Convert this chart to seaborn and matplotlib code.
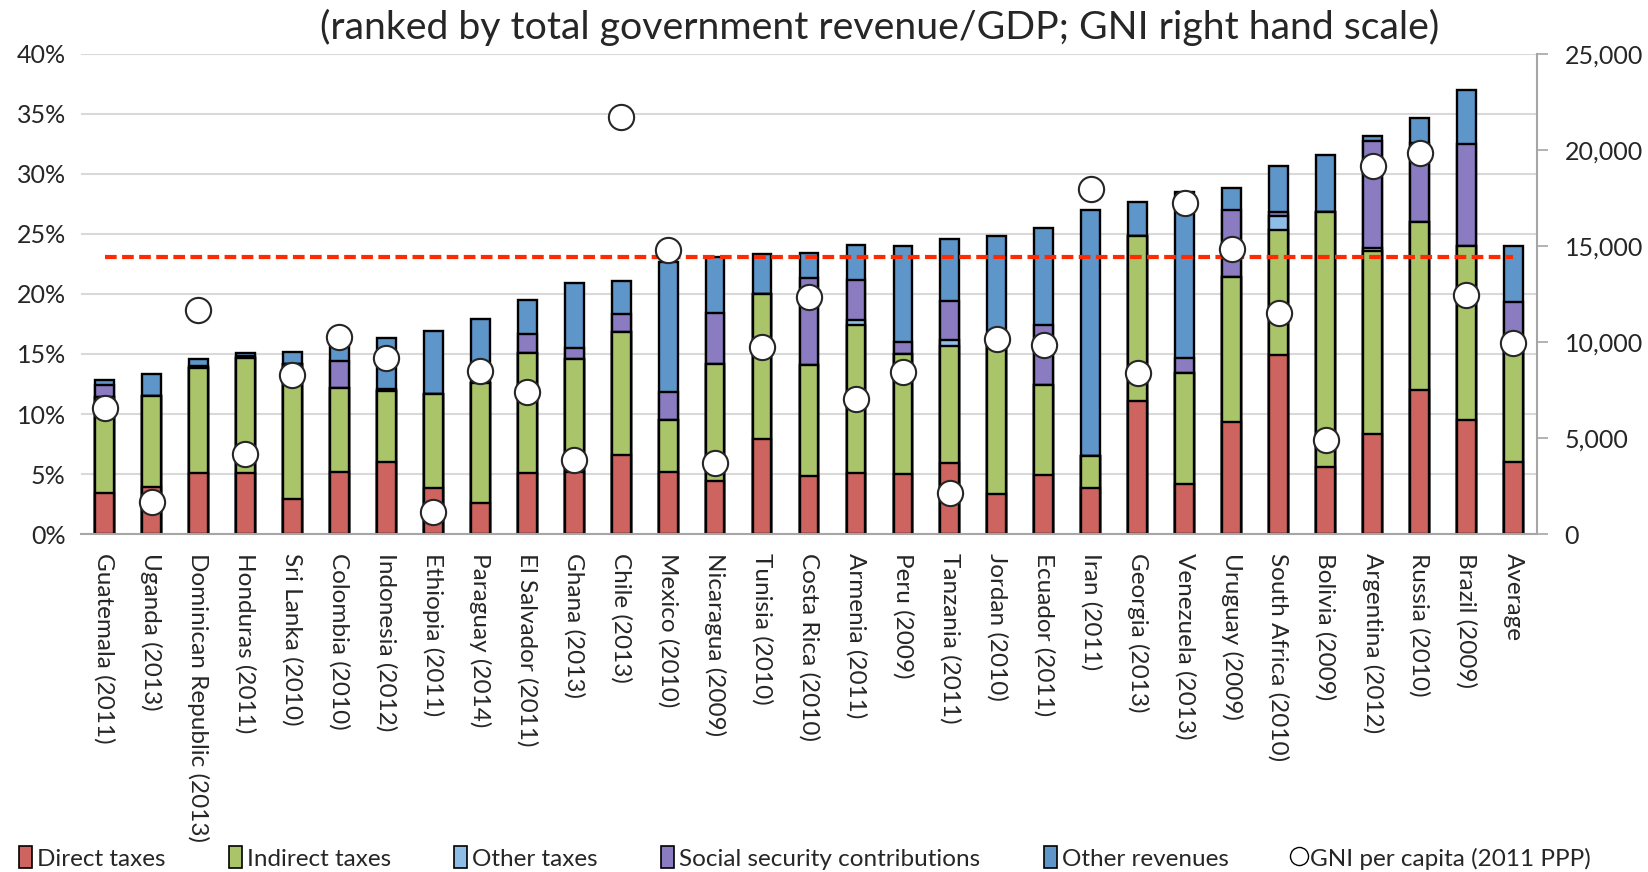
import numpy as np
import pandas as pd
import matplotlib
matplotlib.use('Agg')
import matplotlib.pyplot as plt
import seaborn as sns
from matplotlib.patches import Patch
from matplotlib.lines import Line2D

# Data (% of GDP, GNI in 2011 PPP $)
categories = ['Guatemala (2011)', 'Uganda (2013)', 'Dominican Republic (2013)', 'Honduras (2011)',
              'Sri Lanka (2010)', 'Colombia (2010)', 'Indonesia (2012)', 'Ethiopia (2011)',
              'Paraguay (2014)', 'El Salvador (2011)', 'Ghana (2013)', 'Chile (2013)',
              'Mexico (2010)', 'Nicaragua (2009)', 'Tunisia (2010)', 'Costa Rica (2010)',
              'Armenia (2011)', 'Peru (2009)', 'Tanzania (2011)', 'Jordan (2010)',
              'Ecuador (2011)', 'Iran (2011)', 'Georgia (2013)', 'Venezuela (2013)',
              'Uruguay (2009)', 'South Africa (2010)', 'Bolivia (2009)', 'Argentina (2012)',
              'Russia (2010)', 'Brazil (2009)', 'Average']

direct_taxes = [3.4, 3.9, 5.1, 5.1, 2.9, 5.2, 6.0, 3.8, 2.6, 5.1, 5.2, 6.6, 5.2, 4.4, 7.9, 4.8,
                5.1, 5.0, 5.9, 3.3, 4.9, 3.8, 11.1, 4.2, 9.3, 14.9, 5.6, 8.3, 12.0, 9.5, 6.0]
indirect_taxes = [8.0, 7.6, 8.7, 9.6, 11.3, 7.0, 5.9, 7.9, 10.0, 10.0, 9.4, 10.2, 4.3, 9.8, 12.1, 9.3,
                  12.3, 10.0, 9.8, 12.8, 7.5, 2.7, 13.7, 9.2, 12.1, 10.4, 21.2, 15.3, 14.0, 14.5, 10.2]
other_taxes = [0, 0, 0, 0, 0, 0, 0, 0, 0, 0, 0, 0, 0, 0, 0, 0,
               0.45, 0, 0.45, 0, 0, 0, 0, 0, 0, 1.2, 0, 0.25, 0, 0, 0]
social_security = [1.0, 0, 0.2, 0.13, 0, 2.2, 0.17, 0, 0, 1.6, 0.9, 1.5, 2.3, 4.2, 0, 7.2,
                   3.3, 1.0, 3.3, 0, 5.0, 0, 0, 1.3, 5.6, 0.3, 0, 8.9, 6.6, 8.5, 3.1]
other_revenues = [0.43, 1.8, 0.6, 0.25, 1.0, 1.6, 4.25, 5.2, 5.3, 2.8, 5.4, 2.8, 10.9, 4.7, 3.3, 2.1,
                  2.9, 8.0, 5.1, 8.7, 8.1, 20.5, 2.9, 13.8, 1.8, 3.9, 4.75, 0.4, 2.1, 4.5, 4.7]
gni_per_capita = [6560, 1670, 11680, 4180, 8280, 10260, 9180, 1150, 8480, 7380, 3830, 21700,
                  14770, 3700, 9760, 12360, 7050, 8420, 2150, 10170, 9820, 17970, 8400, 17240,
                  14860, 11510, 4900, 19150, 19860, 12430, 9930]
reference_line = 23.1

series_names = ['Direct taxes', 'Indirect taxes', 'Other taxes',
                'Social security contributions', 'Other revenues']
series_colors = ['#CD645F', '#AAC46A', '#8EBDE8', '#8B7CC1', '#5E96C9']

df = pd.DataFrame({'country': categories, 'Direct taxes': direct_taxes,
                   'Indirect taxes': indirect_taxes, 'Other taxes': other_taxes,
                   'Social security contributions': social_security,
                   'Other revenues': other_revenues, 'GNI': gni_per_capita})
cum = df[series_names].cumsum(axis=1)

sns.set_style('white')
plt.rcParams['font.family'] = ['Lato', 'DejaVu Sans']

fig = plt.figure(figsize=(16.48, 8.72), dpi=100)
ax = fig.add_axes([0.0492, 0.3876, 0.8834, 0.5505])

# stacked bars: draw cumulative totals from the top layer down
for name, color in reversed(list(zip(series_names, series_colors))):
    sns.barplot(x=df['country'], y=cum[name], color=color, saturation=1, width=0.4,
                edgecolor='black', linewidth=1.7, errorbar=None, ax=ax)

n = len(categories)
ax.plot([0, n - 1], [reference_line, reference_line], color='#FF2A00', lw=3,
        dashes=(2.8, 1.3), zorder=3)

ax.set_xlim(-0.5, n - 0.5)
ax.set_ylim(0, 40)
ax.set_yticks(np.arange(0, 41, 5))
ax.set_yticklabels([f'{v}%' for v in range(0, 41, 5)])
ax.set_xlabel('')
ax.set_ylabel('')
ax.yaxis.grid(True, color='#D9D9D9', lw=1.5)
ax.set_axisbelow(True)
for s in ['left', 'top', 'right']:
    ax.spines[s].set_visible(False)
ax.spines['bottom'].set_color('#A6A6A6')
ax.spines['bottom'].set_linewidth(1.5)
ax.set_xticks(np.arange(-0.5, n, 1), minor=True)
ax.tick_params(axis='x', which='major', labelrotation=-90, length=7, direction='inout',
               color='#A6A6A6', width=1.2, pad=10, labelsize=17.5)
ax.tick_params(axis='x', which='minor', length=12, direction='inout', color='#A6A6A6', width=1.2)
ax.tick_params(axis='y', length=0, pad=11, labelsize=18)

# GNI per capita on the right hand scale
ax2 = ax.twinx()
sns.scatterplot(x=np.arange(n), y=df['GNI'], color='white', edgecolor='#262626',
                linewidth=1.5, s=330, zorder=5, legend=False, ax=ax2)
ax2.set_xlim(-0.5, n - 0.5)
ax2.set_ylim(0, 25000)
ax2.set_yticks(np.arange(0, 25001, 5000))
ax2.set_yticklabels([f'{v:,}' for v in range(0, 25001, 5000)])
ax2.set_ylabel('')
for s in ['left', 'top', 'bottom']:
    ax2.spines[s].set_visible(False)
ax2.spines['right'].set_color('#A6A6A6')
ax2.spines['right'].set_linewidth(1.5)
ax2.tick_params(axis='y', length=8, color='#A6A6A6', width=1.2, pad=12, labelsize=18)

fig.text(0.534, 0.968, '(ranked by total government revenue/GDP; GNI right hand scale)',
         ha='center', va='center', fontsize=28.3)

handles = [Patch(facecolor=c, edgecolor='black', linewidth=1.2) for c in series_colors]
handles.append(Line2D([], [], marker='o', color='none', markerfacecolor='white',
                      markeredgecolor='black', markersize=13))
fig.legend(handles, series_names + ['GNI per capita (2011 PPP)'], loc='center left',
           bbox_to_anchor=(-0.002, 0.016), ncol=6, frameon=False, fontsize=17.5,
           handlelength=0.55, handleheight=1.0, handletextpad=0.2, columnspacing=2.6)

fig.savefig('out.png', dpi=100)
